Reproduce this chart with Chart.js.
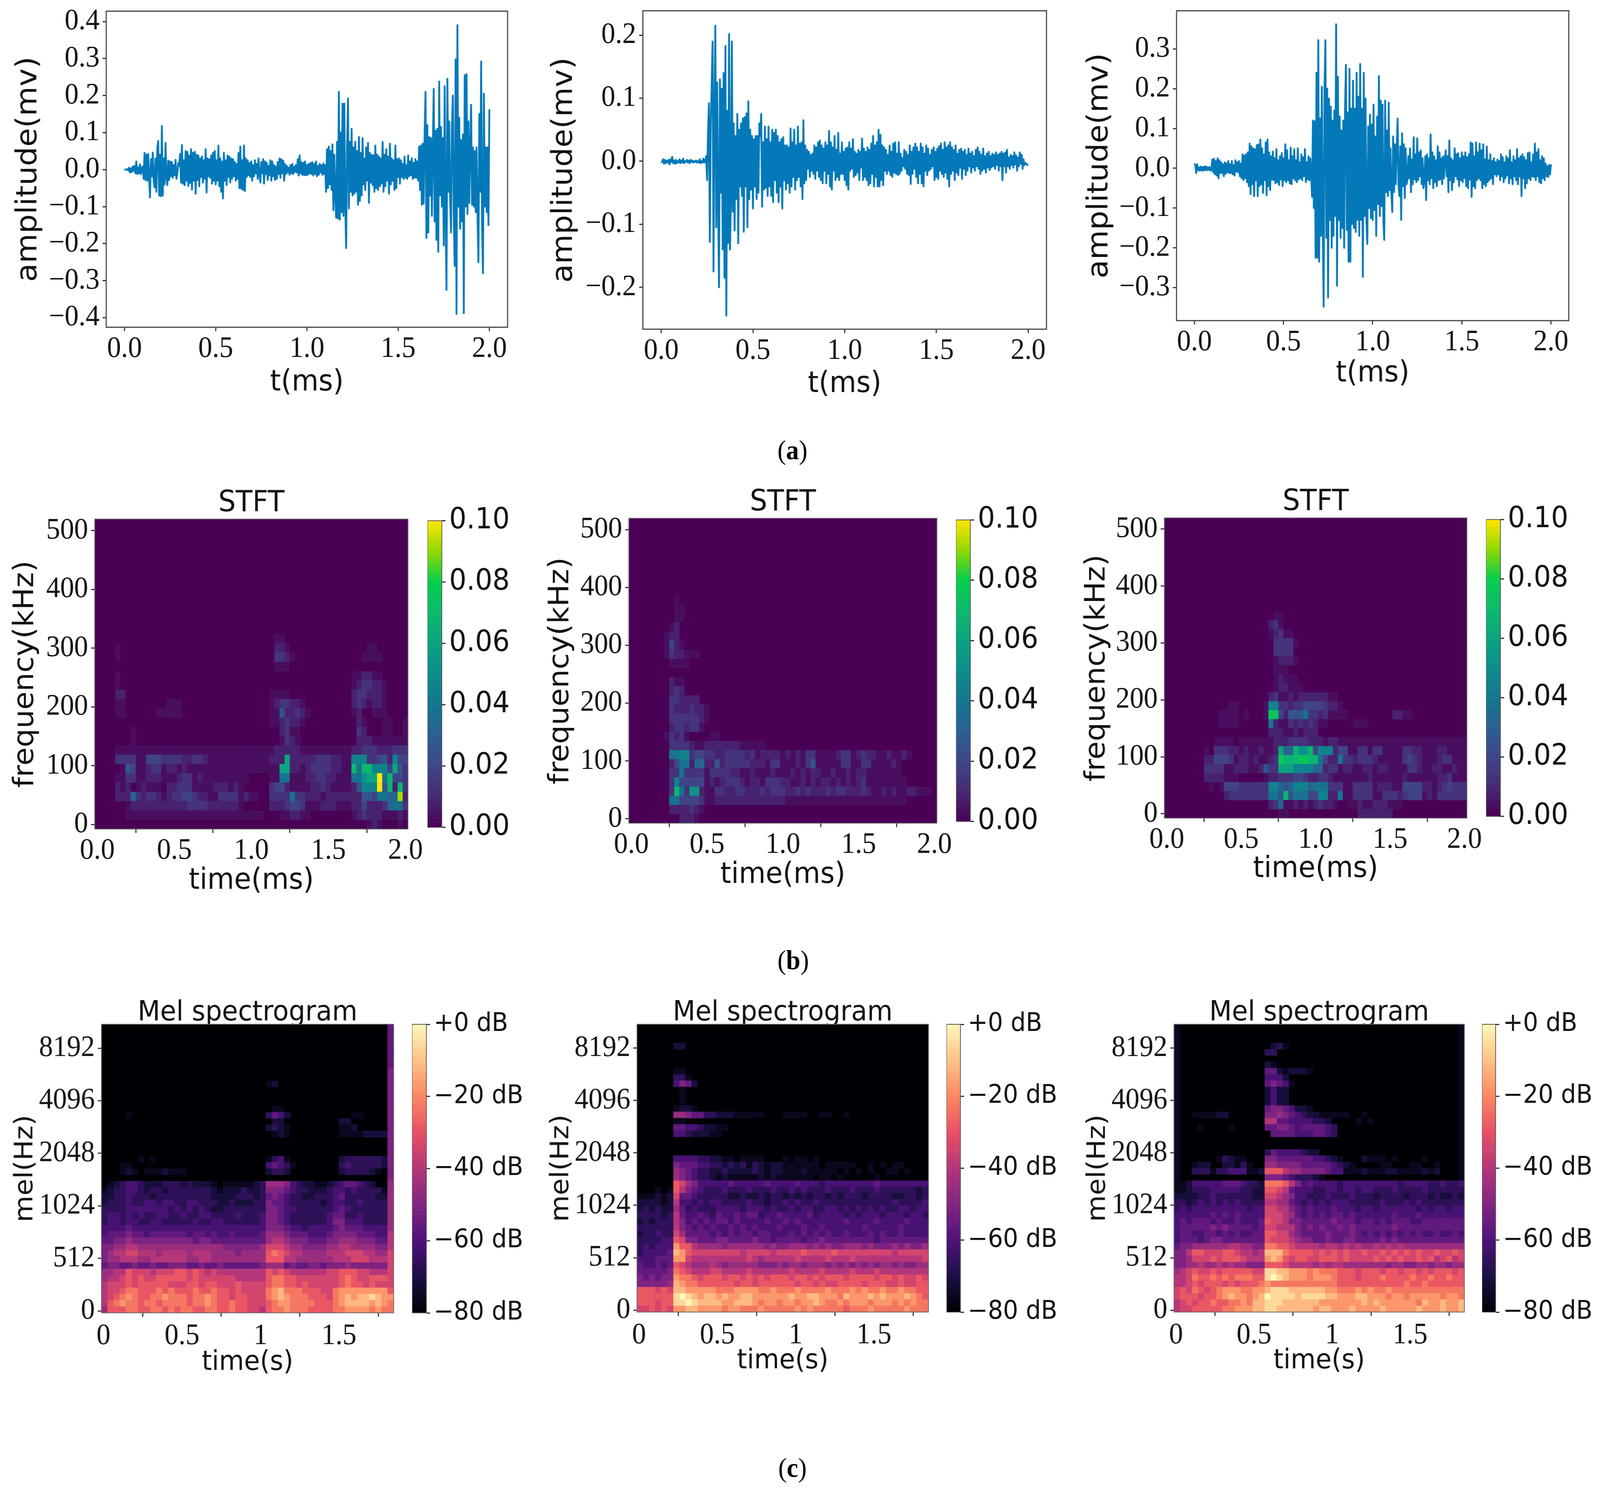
<!DOCTYPE html>
<html>
<head>
<meta charset="utf-8">
<title>Waveform, STFT and Mel spectrogram</title>
<script src="https://cdn.jsdelivr.net/npm/chart.js@4"></script>
<style>
html, body { margin: 0; background: #fff; overflow: hidden; }
#page { position: relative; width: 4353px; height: 3813px; overflow: hidden; background: #fff; transform-origin: 0 0; }
canvas { position: absolute; }
.caption { position: absolute; width: 200px; text-align: center; font: 70px "Liberation Serif", serif; color: #000; line-height: 80px; }
.caption b { font-weight: bold; }
</style>
</head>
<body>
<div id="page">
<div class="caption" style="left:2056px;top:1113px">(<b>a</b>)</div>
<div class="caption" style="left:2058px;top:2419px">(<b>b</b>)</div>
<div class="caption" style="left:2056px;top:3719px">(<b>c</b>)</div>
</div>
<script>
// amplitude, in 0.001 mV, one sample every 0.005 ms
const tStep = 0.005;

const wave1 = [
0,0,0,1,-2,5,-8,3,-6,8,-4,10,-10,22,-12,6,-10,14,-12,4,
8,-25,45,-28,40,-30,42,-22,-75,28,-18,46,-30,-48,30,-60,58,77,-70,40,
-72,118,-70,30,-40,72,-20,-42,24,-28,22,-18,20,-22,12,-15,26,-25,-10,18,
10,42,-35,66,-38,25,-42,50,-30,48,-44,38,-36,55,-54,45,-30,48,-65,40,
-28,38,-45,30,-20,35,-35,25,-25,55,-62,30,-18,28,-22,38,-38,45,-30,50,
-40,25,-30,65,-45,30,-60,22,-78,45,-30,25,-42,38,-20,35,-35,30,-25,28,
-18,20,-30,15,-25,45,-50,62,-52,25,-55,65,-58,30,-20,25,-15,18,-20,22,
-30,12,-18,25,-10,15,-25,30,-15,-35,20,-10,28,-38,22,-12,18,-28,10,-15,
25,-30,22,-18,12,-28,8,-25,20,-12,30,-22,28,-10,24,-30,15,-12,10,-8,
5,-14,12,-10,15,-12,8,-6,12,-8,28,-16,38,-10,20,-14,18,-15,22,-15,
12,-14,15,-10,18,-12,20,-16,15,-12,22,-18,10,-14,15,-8,12,-14,16,-12,
12,-60,55,-50,62,-40,50,-55,68,-110,40,-70,-130,75,-132,210,-135,100,-115,178,
-125,178,-95,-212,60,192,-105,75,-60,110,-70,60,-65,75,-60,50,-95,88,-85,45,
-70,85,-40,30,-55,60,-30,72,-90,45,-35,40,-42,38,-60,65,-50,40,-55,35,
-45,30,-38,75,-60,40,-45,55,-30,35,-65,70,-40,30,-30,25,-55,65,-50,28,
-20,30,-38,25,-20,15,-25,35,-22,12,-25,38,-18,22,-15,30,-25,18,-22,28,
-22,22,-30,62,-55,65,-95,70,-92,90,210,-185,120,-170,88,-70,85,-125,60,218,
-140,105,-190,110,-222,238,-70,115,-100,85,-205,225,-120,-325,245,-60,130,-80,-170,120,
200,-120,-260,298,-390,390,-100,140,-160,80,-140,95,-388,255,-100,258,-120,130,-90,60,
175,-95,60,-100,50,-115,60,-120,-250,150,-60,292,-150,-280,205,-100,60,-115,60,-150,163
];

const wave2 = [
-2,-1,3,-4,2,-3,1,-2,2,-5,3,-1,7,-3,1,-4,2,-3,0,-2,
3,-3,1,-2,4,-3,0,-1,2,-2,1,-3,2,-1,1,-2,0,-1,1,-2,
0,-2,3,-3,0,-2,4,-2,0,8,-30,45,92,-128,60,118,190,-175,70,215,
-105,125,-60,-200,130,-50,115,-140,140,-185,183,-245,80,-130,202,-140,-60,190,-80,60,
-110,40,-60,75,-130,50,-40,60,-55,68,-112,70,-40,76,-105,95,-60,50,-45,40,
-75,35,-40,40,-60,40,-50,60,40,75,-72,30,-45,55,-42,35,-55,55,-40,30,
-55,50,-65,45,-30,50,-50,40,-65,30,-40,35,-75,38,-30,25,-45,25,-35,22,
-50,52,-40,30,-25,50,-45,25,-30,55,-25,28,-40,30,-60,65,-35,25,-30,18,
-12,15,-25,10,-15,12,-20,25,-28,22,-15,30,-25,33,-30,25,-35,20,-15,30,
-35,25,-20,48,-40,30,-45,22,-15,40,-30,18,-25,45,-30,12,-20,30,-20,15,
-30,20,-38,22,-45,30,-15,20,-12,35,-25,15,-22,12,-18,18,-30,15,-10,36,
-30,20,-25,15,-30,22,-38,18,-35,28,-20,40,-40,25,-25,30,-40,50,-40,42,
-30,25,-38,22,-15,18,-20,10,-15,25,-22,15,-25,28,-18,30,-20,12,-22,30,
-20,12,-15,5,-8,18,-12,15,-20,10,-22,25,-36,15,-20,22,-12,28,-25,22,
-35,15,-20,28,-35,22,-40,12,-15,25,-22,20,-15,10,-12,18,-8,22,-30,15,
-25,20,-28,24,-15,28,-20,18,-25,30,-18,22,-28,25,-40,30,-20,22,-15,18,
-30,25,-18,12,-22,18,-10,20,-28,15,-12,18,-22,10,-15,20,-8,12,-18,15,
-10,8,-15,18,-8,22,-12,15,-20,10,-15,20,-12,8,-18,12,-10,15,-14,8,
-10,12,-8,10,-12,14,-6,10,-15,12,-8,15,-30,12,-8,14,-18,18,-8,6,
-12,10,-6,8,-10,14,-5,9,-15,6,-8,14,-4,10,-12,3,-6,-3,-4,-6,-5
];

const wave3 = [
12,8,-12,10,-5,2,-6,4,-5,3,-6,4,-4,5,-5,2,-4,3,-6,-4,
22,-10,24,-15,18,-18,25,-25,20,-12,15,-12,10,-20,15,-14,12,-10,18,-12,
10,-12,18,-15,8,-18,20,-8,15,-10,18,-20,12,-25,35,-30,32,-25,35,-35,
40,-45,62,-65,55,-40,50,-70,48,-30,58,-70,60,-45,72,-40,50,-62,35,-30,
65,-68,72,-45,40,-55,30,-28,42,-30,25,-38,48,-35,20,-42,30,-28,38,-45,
25,-30,60,-35,45,-30,20,-38,52,-40,30,-25,48,-30,20,-35,50,-28,15,-25,
35,-30,28,-20,48,-35,15,-28,30,-30,25,-20,-72,120,-100,118,-225,240,-225,322,
-235,125,-170,205,-130,-348,205,322,-175,200,-325,175,-130,155,-200,120,-170,145,-120,362,
-295,230,-130,130,-175,95,-150,120,-200,150,260,-155,140,-235,250,-235,150,-140,220,-150,
150,-160,240,-130,180,-170,262,-130,150,-273,240,-120,175,-130,-190,105,-100,135,-125,110,
-130,160,-105,80,-170,130,-90,232,-120,170,-95,160,-130,-180,170,-60,95,-70,165,-55,
50,-65,-110,80,-60,60,-40,55,125,-40,-70,55,-130,88,-45,60,-75,50,-40,-30,
30,-25,50,-60,22,-40,78,-28,35,-35,75,-30,40,-20,45,-40,25,-50,-30,30,
-80,35,-30,25,-40,85,-25,40,-50,30,-35,20,-45,55,-30,40,-28,25,-40,30,
-25,22,45,-20,30,-60,70,-30,25,-55,20,-35,50,-20,35,-28,38,-45,25,-30,
40,-35,30,-25,40,-45,28,-50,35,-28,65,-72,62,-45,30,-50,65,-30,40,-25,
62,-30,45,-50,60,-40,22,-45,55,-35,20,-30,35,-25,18,-40,25,-15,15,-20,
22,-15,18,-30,35,-20,28,-35,15,-25,30,-18,25,-38,45,-25,15,-40,30,-20,
20,-30,48,-40,25,-20,30,-70,35,-25,28,-50,20,-38,38,-25,40,-30,15,-20,
35,-22,62,-30,40,-20,48,-35,20,-38,30,-25,25,-30,12,-20,5,-22,8,-15,10
];

const waveTicksX = [0, 0.5, 1, 1.5, 2];
const waveLabelsX = ['0.0', '0.5', '1.0', '1.5', '2.0'];
const ampTicks1 = [-0.4, -0.3, -0.2, -0.1, 0, 0.1, 0.2, 0.3, 0.4];
const ampLabels1 = ['\u22120.4', '\u22120.3', '\u22120.2', '\u22120.1', '0.0', '0.1', '0.2', '0.3', '0.4'];
const ampTicks2 = [-0.2, -0.1, 0, 0.1, 0.2];
const ampLabels2 = ['\u22120.2', '\u22120.1', '0.0', '0.1', '0.2'];
const ampTicks3 = [-0.3, -0.2, -0.1, 0, 0.1, 0.2, 0.3];
const ampLabels3 = ['\u22120.3', '\u22120.2', '\u22120.1', '0.0', '0.1', '0.2', '0.3'];

// STFT magnitude, rows from 0 kHz upward, 61 time frames, hex level: 0 to f means 0.00 to 0.10
const stft1 = [
'0000000000 0000000000 0000000000 0000000000 0000000000 0001210001 0',
'0000001111 1111111111 1111111111 1110001122 1100000000 1232221112 1',
'0000001222 2222222233 3322222210 0000222344 3111222111 2242223677 3',
'0000222632 3321233443 2211333312 1100333373 3222122222 225547766e 2',
'0000212012 1110223331 1112221210 0000344211 1122321111 25888f5b2b 3',
'0000113311 2221112331 2111111111 0000117711 1223322111 779aaf7b44 3',
'0000015411 2331221211 1111111111 111111aa22 1233332211 b7bb8884a5 3',
'0000333311 4443333223 3211111111 1111222a22 2223332211 8883345284 4',
'0000111111 1111111111 1111111111 1111122222 1111111111 2233322233 3',
'0000000100 0000000000 0000000000 0000001321 0000000000 0222111111 1',
'0000000100 0000000000 0000000000 0000002311 0000000000 0320001100 1',
'0000000000 0000000000 0000000000 0000112322 1000000000 0210001100 1',
'0000110000 0011111000 0000000000 0000115223 2100000000 1200111000 0',
'0000110000 0000111000 0000000000 0000123322 1000000000 2321221000 0',
'0000220000 0000000000 0000000000 0000111100 0000000000 2332221000 0',
'0000100000 0000000000 0000000000 0000000000 0000000000 1233221000 0',
'0000100000 0000000000 0000000000 0000000000 0000000000 1122110000 0',
'0000000000 0000000000 0000000000 0000011100 0000000000 0000000000 0',
'0000100000 0000000000 0000000000 0000033210 0000000000 0011110000 0',
'0000100000 0000000000 0000000000 0000022100 0000000000 0001100000 0',
'0000000000 0000000000 0000000000 0000011000 0000000000 0000000000 0'
];
const stft2 = [
'0000000000 2221000000 0000000000 0000000000 0000000000 0000000000 0',
'0000000022 2232100000 0000000000 0000000000 0000000000 0000000000 0',
'0000000077 4444311222 2222222222 2111111111 1111111111 1111100000 0',
'000000003b 7399211332 2332223233 3223232223 2332223211 2121122111 0',
'0000000038 4444412123 3321221333 2211212122 1212123111 1111100000 0',
'0000000033 7333313333 2211211121 1121212211 2112122111 1111000000 0',
'0000000024 7726622523 3333222133 1112135111 1133113311 1121000000 0',
'0000000077 8834433223 3332312222 1212133111 1233123221 1211210000 0',
'0000000033 3321122222 2211111000 0000000000 0000000000 0000000000 0',
'0000000132 3100001100 0000000000 0000000000 0000000000 0000000000 0',
'0000000023 3233100000 0000000000 0000000000 0000000000 0000000000 0',
'0000000033 3333210000 0000000000 0000000000 0000000000 0000000000 0',
'0000000032 2232210000 0000000000 0000000000 0000000000 0000000000 0',
'0000000033 2222000000 0000000000 0000000000 0000000000 0000000000 0',
'0000000023 2000000000 0000000000 0000000000 0000000000 0000000000 0',
'0000000021 1000000000 0000000000 0000000000 0000000000 0000000000 0',
'0000000000 0000000000 0000000000 0000000000 0000000000 0000000000 0',
'0000000011 1100000000 0000000000 0000000000 0000000000 0000000000 0',
'0000000132 2111000000 0000000000 0000000000 0000000000 0000000000 0',
'0000000142 1000000000 0000000000 0000000000 0000000000 0000000000 0',
'0000000122 0000000000 0000000000 0000000000 0000000000 0000000000 0',
'0000000012 0000000000 0000000000 0000000000 0000000000 0000000000 0',
'0000000001 1000000000 0000000000 0000000000 0000000000 0000000000 0',
'0000000001 1000000000 0000000000 0000000000 0000000000 0000000000 0',
'0000000001 0000000000 0000000000 0000000000 0000000000 0000000000 0'
];
const stft3 = [
'0000000000 0000000000 0001100000 0000000002 2222220000 0000000000 0',
'0000000000 0000000000 0236112121 2322100112 1122211100 0000000000 0',
'0000000000 0023333333 3775b57774 4882271133 3311333234 4412133333 3',
'0000000001 0144433333 3886568886 7773331133 3312221144 4422123433 3',
'0000000022 2211100000 1223334432 2332111111 1211111121 1111122311 1',
'0000000033 3311222112 533aaa8888 6623312211 2212211113 3211221121 1',
'0000000022 4443122121 123cbbbccb b742273323 3321111134 3211123311 1',
'0000000010 3332212112 112a66b99b 4888244113 3133111133 2211122111 1',
'0000000000 1111011111 1122233332 2212211111 1111111111 1111111111 1',
'0000000000 0000000000 0222112122 2000000000 0000000000 0000000000 0',
'0000000000 0111100000 0721132323 2110000011 1000000000 0000000000 0',
'0000000000 0111101000 1cc4255573 3231111000 0000002211 0000000000 0',
'0000000000 0001100000 1883323344 4432210000 0000000000 0000000000 0',
'0000000000 0000000000 0231121222 2221100000 0000000000 0000000000 0',
'0000000000 0000000000 0012211100 0000000000 0000000000 0000000000 0',
'0000000000 0000000000 0012111000 0000000000 0000000000 0000000000 0',
'0000000000 0000000000 0011100000 0000000000 0000000000 0000000000 0',
'0000000000 0000000000 0012221000 0000000000 0000000000 0000000000 0',
'0000000000 0000000000 0033330000 0000000000 0000000000 0000000000 0',
'0000000000 0000000000 0033331000 0000000000 0000000000 0000000000 0',
'0000000000 0000000000 0123110000 0000000000 0000000000 0000000000 0',
'0000000000 0000000000 0231000000 0000000000 0000000000 0000000000 0',
'0000000000 0000000000 0011000000 0000000000 0000000000 0000000000 0'
];

// Mel power, rows from the bottom upward, 48 time frames, hex level: 0 to f means -80 dB to 0 dB
const mel1 = [
'7aaabbaabbab abbaabbaabaa 998abbcbbbaa aabbccccbcbb',
'8abcbbabbabb bbabbcbaabaa 999abccbbbba aabcddddcdcb',
'89abcbaabbcb bbabbcbaa9aa 999bcdcbbbaa a9bcdcddedcc',
'899abbaaabab aaabaabaa9a9 999bcdbbbaaa 99bcccccccca',
'8999a9aaaaa9 99aa9aa999a9 999abbaa9a99 999abaa9a99a',
'7889a9a99aaa aa9a99999988 888abbaa9999 999aba99aaa9',
'7788a9998999 aa9a98988888 888a9a988888 899aaa998889',
'566556556556 665565565555 556777565566 566676666669',
'677888778888 887788777777 777aaa887777 778889998889',
'678899888788 887888777767 777aba988777 788899988779',
'667788777777 777777776666 667999877666 677887777668',
'556676666666 666566555555 555788766655 566777666559',
'455565545555 554554544544 445777655544 456666555448',
'444454444444 444444444444 444666544344 445655544447',
'344344334433 333433443333 334665433333 346644433337',
'344343433443 343344333343 334665433333 345533433337',
'333344444443 434343223333 333665443333 334543333337',
'233343344344 334433322322 233655433333 234433433337',
'223343332333 333333222233 323565433223 334533333226',
'123344323323 333333212223 223666543322 234434333316',
'012344322233 323222101111 123777643221 123455432006',
'000000000000 000000000000 000000000000 000000000006',
'000121011121 110000000000 000233200000 000233332106',
'000110000000 000000000000 000454310000 000343333326',
'000000101000 000000000000 000134100000 000233333326',
'', '', '',
'000000000000 000000000000 000012100000 000111122226',
'000000000000 000000000000 000232100000 000112000006',
'000000000000 000000000000 000022000000 000220000006',
'000010000000 000000000000 000354200000 000001100006',
'000000000000 000000000000 000011000000 000000000000',
'', '', '',
'000000000000 000000000000 000120000000 000000000000'
];
const mel1LastCol = 'bbca999999888777777776666666666666666665555555 5';
const mel2 = [
'99a9a9ccddcc ccbccbbbcbbb bbcbcbbbbbab bbcbbbbbcbbb',
'aaa9aaeefedd ddccdddcbccb ccbccdcbbcbc ccbcccbcbcbb',
'aaaaaaefedcd dcdccddccccc cdccddcccbdc ccdcdcccdcba',
'aaa9a9ddcccc cbbbccccbbcb bbcbbbbcbbbc bcbbcbbcbbaa',
'666667dcbbaa aaaa9aa9aaaa aa9aa9a99aaa a9aaa99a99aa',
'656566cbba9a aa9aa9a9a9aa a9aa9a9aaa9a aaa9aa9a99a9',
'555556ba9888 998888988888 898888988889 888988888888',
'544545a98777 876777776667 677677767676 767677676677',
'444555cc9888 888888987888 889888898889 888888888889',
'344445dca999 999998999989 999a9999a999 999999899999',
'343444caa877 776777777676 677767676677 767666767667',
'333344a96655 566555565545 555455655555 555455555555',
'233433975555 454545545544 454545454454 445454454444',
'333333865454 544545454445 444544544444 454444454444',
'232333864545 455454444544 545444444454 444544445444',
'333323854454 354454553445 444453444434 344434443443',
'232322753433 344443444343 343443344343 434343344344',
'222212844343 443333433233 434334333333 333333433334',
'111212955433 333223223233 232323323233 323333223323',
'000101a86543 334333433343 343433343334 333433333323',
'000000a97644 444544444544 445444344444 444544444444',
'000000765433 212111112121 111110110100 000100000000',
'000000765433 223222232122 111211111010 101001101000',
'000000655544 332323132122 111111011111 001010110000',
'000000444433 221101111000 101101000000',
'', '', '',
'000000443222 110000000000',
'000000554432 211000000000',
'000000110000',
'000000776553 322211111000 111100110010',
'000000122100',
'000000010000', '000000010000', '000000010000',
'000000465200',
'000000331000',
'000000110000',
'', '', '',
'000000220000'
];
const mel3 = [
'899aaaaabbcc cddeedddd ddcddcccdccc cdcccccdcccd ccd',
'89a9aabaabbc bddeeeddd dddcccccccdc dccccccbdccd ccd',
'9aaa9aabcdcc bcdfeeeed eeeeddcccddc ccbccbcccccb ccb',
'9a9ba9abcccb bccdeeedd ddddccbbbcbc bbcbbbbbbbbb bbb',
'889a9aaa9a9a aabcbbbbb bbbbbbaaaaaa aaaaabaabaaa aaa',
'889baabababb baaefedcc cbcccbaaa9aa abaaaabaabaa baa',
'789a99a9aaaa a99eeddcc cbcbbbaaa9aa a9aa9aa9a9aa a9a',
'667787787877 666aaa988 887878877777 776776677677 677',
'667999a9aaa9 888cdca9a a99aaa9a9999 a9a9a99a9a89 a89',
'668aa999aa98 878dddbaa aa9a9a9a99a9 9a9a9a9a99a9 9a9',
'566777777887 766bbaa98 888788787877 878787777777 777',
'455545665555 555a99987 665565566555 565655555555 555',
'455445545454 455aa9976 555565556545 454545454454 454',
'455555656555 545998886 565655656555 555655555555 555',
'454555454454 445a99866 555556555455 454555445555 555',
'444444545454 444999875 454545545444 444544454444 444',
'343444444444 344998865 454445444344 344444434344 344',
'332343434343 333887754 343434443333 343334343333 333',
'222233433333 322998764 433343334333 233332333232 232',
'112333444443 322aa9854 443344344344 333433334333 333',
'112444445554 332bbba86 454444344444 444434444334 334',
'000000000000 000666543 332100000000 000000000000',
'000333133444 112aaa877 666654411121 112211112120',
'000122002213 100776666 555554321000 011000110010',
'000000013211 000665555 554432100021 110100001000',
'000000000000 000354444 322000000000',
'', '',
'000000000000 000055554 445543000000',
'000010000100 000556654 555543000000',
'000000000000 000885544 443320000101',
'000111122000 000667654 322111110010',
'000000000000 000566542 210000000000',
'000000000000 000242200', '000000000000 000242200', '000000000000 000242200',
'000000000000 000565410',
'000000000000 000444200',
'000000000000 000552122 210000000000',
'000000000000 000210000',
'',
'000000000000 000330000',
'000000000000 000023100'
];
// dim first and last frames of the third Mel panel, a dot keeps the level of the row
const mel3EdgeCol = '..................... 1111111111111111111111111';

const stftTicksX = [0, 0.5, 1, 1.5, 2];
const stftLabelsX = ['0.0', '0.5', '1.0', '1.5', '2.0'];
const stftTicksY = [0, 100, 200, 300, 400, 500];
const stftLabelsY = ['0', '100', '200', '300', '400', '500'];
const melTicksX = [0, 0.5, 1, 1.5];
const melLabelsX = ['0', '0.5', '1', '1.5'];
const melTicksY = [0, 1, 2, 3, 4, 5];
const melLabelsY = ['0', '512', '1024', '2048', '4096', '8192'];
const stftBarTicks = [0, 0.02, 0.04, 0.06, 0.08, 0.1];
const stftBarLabels = ['0.00', '0.02', '0.04', '0.06', '0.08', '0.10'];
const melBarTicks = [-80, -60, -40, -20, 0];
const melBarLabels = ['\u221280 dB', '\u221260 dB', '\u221240 dB', '\u221220 dB', '+0 dB'];

const viridis = ['#4a0055', '#482a74', '#3f4689', '#2a6092', '#14768f', '#0c8d8b', '#0aa381', '#0dba6c', '#05cf4d', '#92d800', '#ffe600'];
const magma = ['#000004', '#1c1044', '#4f127b', '#812581', '#b5367a', '#e85064', '#fb8861', '#fec287', '#fcf8b8'];

const SERIF = '"Liberation Serif", serif';
const SANS = '"DejaVu Sans", sans-serif';
const INK = '#111';
const page = document.getElementById('page');

// the window can be narrower than the figure, squeeze the whole figure in so nothing is cut
page.style.transform = 'scaleX(' + Math.min(1, window.innerWidth / 4353) + ')';

function color_at(stops, t) {
    t = Math.min(1, Math.max(0, t));
    const p = t * (stops.length - 1);
    const i = Math.min(stops.length - 2, Math.floor(p));
    const f = p - i;
    const a = stops[i], b = stops[i + 1];
    const out = [1, 3, 5].map(k => {
        const u = parseInt(a.substr(k, 2), 16), v = parseInt(b.substr(k, 2), 16);
        return Math.round(u + (v - u) * f);
    });
    return 'rgb(' + out.join(',') + ')';
}

function add_canvas(left, top, width, height) {
    const c = document.createElement('canvas');
    c.width = width;
    c.height = height;
    c.style.left = left + 'px';
    c.style.top = top + 'px';
    c.style.width = width + 'px';
    c.style.height = height + 'px';
    page.appendChild(c);
    return c.getContext('2d');
}

const framePlugin = {
    id: 'frameBox',
    beforeDatasetsDraw(chart, args, opts) {
        if (!opts.fill) return;
        const a = chart.chartArea;
        chart.ctx.fillStyle = opts.fill;
        chart.ctx.fillRect(a.left, a.top, a.width, a.height);
    },
    afterDraw(chart, args, opts) {
        const a = chart.chartArea;
        const ctx = chart.ctx;
        ctx.save();
        ctx.strokeStyle = opts.color || '#444';
        ctx.lineWidth = opts.width || 3;
        ctx.strokeRect(a.left, a.top, a.width, a.height);
        ctx.restore();
    }
};

function axis(opts) {
    const out = {
        type: 'linear',
        min: opts.min,
        max: opts.max,
        offset: false,
        position: opts.position,
        grid: { drawOnChartArea: false, drawTicks: true, tickLength: 10, tickWidth: 3, tickColor: '#333' },
        border: { display: false },
        afterBuildTicks(scale) { scale.ticks = opts.ticks.map(value => ({ value })); },
        afterFit(scale) {
            if (opts.fitWidth !== undefined) scale.width = opts.fitWidth;
            if (opts.fitHeight !== undefined) scale.height = opts.fitHeight;
        },
        ticks: {
            autoSkip: false,
            maxRotation: 0,
            minRotation: 0,
            padding: opts.padding,
            color: INK,
            font: { family: opts.family || SERIF, size: opts.size || 76 },
            callback: (v, i) => opts.labels[i]
        },
        title: { display: false }
    };
    if (opts.title) {
        out.title = {
            display: true,
            text: opts.title,
            color: INK,
            padding: 0,
            font: { family: SANS, size: opts.titleSize }
        };
    }
    return out;
}

// canvas box comes from plot rectangle and axis label centres, the fitted axis sizes pin the plot area
function build_chart(p, type, datasets, titleText, titleSize, frame) {
    const xLine = p.xSize * 0.6;
    const yLine = p.ySize * 0.6;
    const padRight = 60;
    const left = p.yLabelX - yLine;
    const bottom = p.xLabelY + xLine;
    const padTop = titleText ? 30 : 50;
    const titleBox = titleText ? titleSize * p.titleLine : 0;
    const top = p.top - padTop - titleBox;
    const ctx = add_canvas(left, top, p.right + padRight - left, bottom - top);
    return new Chart(ctx, {
        type,
        data: { datasets },
        options: {
            responsive: false,
            animation: false,
            events: [],
            layout: { padding: { left: 0, right: padRight, top: padTop, bottom: 0 } },
            plugins: {
                legend: { display: false },
                tooltip: { enabled: false },
                frameBox: frame,
                title: titleText ? {
                    display: true,
                    text: titleText,
                    fullSize: false,
                    color: INK,
                    padding: 0,
                    font: { family: SANS, size: titleSize, weight: 'normal', lineHeight: p.titleLine }
                } : { display: false }
            },
            scales: {
                x: axis({ min: p.xMin, max: p.xMax, ticks: p.xTicks, labels: p.xLabels, padding: p.xPad,
                    position: 'bottom', fitHeight: bottom - p.bottom, title: p.xTitle, titleSize: p.xSize }),
                y: axis({ min: p.yMin, max: p.yMax, ticks: p.yTicks, labels: p.yLabels, padding: 8,
                    position: 'left', fitWidth: p.left - left, title: p.yTitle, titleSize: p.ySize })
            }
        },
        plugins: [framePlugin]
    });
}

function draw_wave(p, values) {
    const points = values.map((v, i) => ({ x: i * tStep, y: v / 1000 }));
    build_chart(p, 'line', [{
        data: points,
        borderColor: '#0479b9',
        borderWidth: 5,
        pointRadius: 0,
        tension: 0,
        borderJoinStyle: 'round'
    }], null, 0, { color: '#444', width: 3 });
}

function decode(row) {
    return row.replace(/ /g, '').split('').map(ch => parseInt(ch, 16));
}

function cell_datasets(p, rows, nCols, nRows, stops, gamma, edges) {
    const colW = (p.xMax - p.xMin) / nCols;
    const rowH = (p.yMax - p.yMin) / nRows;
    const first = edges.first ? decode(edges.first) : [];
    const last = edges.last ? decode(edges.last) : [];
    const sets = [];
    for (let r = 0; r < Math.max(rows.length, first.length, last.length); r++) {
        const levels = decode(rows[r] || '');
        const data = [], colors = [];
        for (let c = 0; c < nCols; c++) {
            let lv = levels[c] || 0;
            if (c === 0 && first[r] >= 0) lv = first[r];
            if (c === nCols - 1 && last[r] >= 0) lv = last[r];
            if (lv === 0) continue;
            data.push({ x: p.xMin + (c + 0.5) * colW, y: [p.yMin + r * rowH, p.yMin + (r + 1) * rowH] });
            colors.push(color_at(stops, Math.pow(lv / 15, gamma)));
        }
        if (data.length) sets.push({ data, backgroundColor: colors, grouped: false, barPercentage: 1, categoryPercentage: 1, borderWidth: 0 });
    }
    return sets;
}

function draw_heat(p, rows, nCols, nRows, stops, gamma, titleText, titleSize, edges) {
    const sets = cell_datasets(p, rows, nCols, nRows, stops, gamma, edges || {});
    // transparent pair of neighbouring cells, it fixes the bar width to one frame in every dataset
    const colW = (p.xMax - p.xMin) / nCols;
    sets.push({ data: [{ x: p.xMin + colW / 2, y: [p.yMin, p.yMin] }, { x: p.xMin + colW * 1.5, y: [p.yMin, p.yMin] }],
        backgroundColor: 'rgba(0,0,0,0)', grouped: false, barPercentage: 1, categoryPercentage: 1 });
    build_chart(p, 'bar', sets, titleText, titleSize, { fill: color_at(stops, 0), color: '#666', width: 2 });
}

function draw_colorbar(b, stops, ticks, labels, labelSize, axisW) {
    const steps = 120;
    const pad = 50;
    const sets = [];
    for (let i = 0; i < steps; i++) {
        const lo = b.min + (b.max - b.min) * i / steps;
        const hi = b.min + (b.max - b.min) * (i + 1) / steps;
        sets.push({ data: [[lo, hi]], backgroundColor: color_at(stops, (i + 0.5) / steps), grouped: false, barPercentage: 1, categoryPercentage: 1 });
    }
    const w = b.right - b.left;
    const ctx = add_canvas(b.left, b.top - pad, w + axisW, b.bottom - b.top + pad * 2);
    new Chart(ctx, {
        type: 'bar',
        data: { labels: [''], datasets: sets },
        options: {
            responsive: false,
            animation: false,
            events: [],
            layout: { padding: { top: pad, bottom: pad } },
            plugins: { legend: { display: false }, tooltip: { enabled: false }, frameBox: { color: '#555', width: 2 } },
            scales: {
                x: { display: false },
                y: axis({ min: b.min, max: b.max, ticks, labels, padding: 10, position: 'right',
                    fitWidth: axisW, family: SANS, size: labelSize })
            }
        },
        plugins: [framePlugin]
    });
}

const waveBase = { xMin: -0.1, xMax: 2.1, xTicks: waveTicksX, xLabels: waveLabelsX, xTitle: 't(ms)', xSize: 75, xPad: 0, yTitle: 'amplitude(mv)', ySize: 78 };
draw_wave({ ...waveBase, left: 289, right: 1381, top: 25, bottom: 838, yMin: -0.426, yMax: 0.428, yTicks: ampTicks1, yLabels: ampLabels1, yLabelX: 79, xLabelY: 981 }, wave1);
draw_wave({ ...waveBase, left: 1749, right: 2847, top: 24, bottom: 843, yMin: -0.2666, yMax: 0.2388, yTicks: ampTicks2, yLabels: ampLabels2, yLabelX: 1536, xLabelY: 985 }, wave2);
draw_wave({ ...waveBase, left: 3201, right: 4268, top: 24, bottom: 821, yMin: -0.383, yMax: 0.396, yTicks: ampTicks3, yLabels: ampLabels3, yLabelX: 2993, xLabelY: 958 }, wave3);

const stftBase = { xMin: -0.0165, xMax: 2.0165, xTicks: stftTicksX, xLabels: stftLabelsX, xPad: 0, yTicks: stftTicksY, yLabels: stftLabelsY, xTitle: 'time(ms)', xSize: 75, yTitle: 'frequency(kHz)', ySize: 76, titleLine: 1.05, yMin: -7.7, yMax: 519.7 };
draw_heat({ ...stftBase, left: 258, right: 1110, top: 1329, bottom: 2123, yLabelX: 71, xLabelY: 2257 }, stft1, 61, 33.4, viridis, 1.25, 'STFT', 74.5);
draw_heat({ ...stftBase, left: 1711, right: 2549, top: 1327, bottom: 2108, yLabelX: 1527, xLabelY: 2242 }, stft2, 61, 33.4, viridis, 1.25, 'STFT', 74.5);
draw_heat({ ...stftBase, left: 3168, right: 3991, top: 1326, bottom: 2095, yLabelX: 2986, xLabelY: 2227 }, stft3, 61, 33.4, viridis, 1.25, 'STFT', 74.5);
draw_colorbar({ left: 1163, right: 1202, top: 1329, bottom: 2123, min: 0, max: 0.1 }, viridis, stftBarTicks, stftBarLabels, 74, 220);
draw_colorbar({ left: 2601, right: 2640, top: 1327, bottom: 2108, min: 0, max: 0.1 }, viridis, stftBarTicks, stftBarLabels, 74, 220);
draw_colorbar({ left: 4043, right: 4082, top: 1326, bottom: 2095, min: 0, max: 0.1 }, viridis, stftBarTicks, stftBarLabels, 74, 220);

const melBase = { xMin: -0.013, xMax: 1.848, xTicks: melTicksX, xLabels: melLabelsX, xPad: 4, yTicks: melTicksY, yLabels: melLabelsY, xTitle: 'time(s)', xSize: 70, yTitle: 'mel(Hz)', ySize: 70, titleLine: 0.8, yMin: -0.037, yMax: 5.456 };
draw_heat({ ...melBase, left: 276, right: 1071, top: 2623, bottom: 3362, yLabelX: 70, xLabelY: 3490 }, mel1, 48, 46, magma, 1.1, 'Mel spectrogram', 71, { last: mel1LastCol });
draw_heat({ ...melBase, left: 1733, right: 2526, top: 2623, bottom: 3360, yLabelX: 1528, xLabelY: 3486 }, mel2, 48, 46, magma, 1.1, 'Mel spectrogram', 71);
draw_heat({ ...melBase, left: 3194, right: 3984, top: 2623, bottom: 3360, yLabelX: 2988, xLabelY: 3486 }, mel3, 48, 46, magma, 1.1, 'Mel spectrogram', 71, { first: mel3EdgeCol, last: mel3EdgeCol });
draw_colorbar({ left: 1121, right: 1160, top: 2623, bottom: 3362, min: -80, max: 0 }, magma, melBarTicks, melBarLabels, 65, 270);
draw_colorbar({ left: 2575, right: 2613, top: 2623, bottom: 3360, min: -80, max: 0 }, magma, melBarTicks, melBarLabels, 65, 270);
draw_colorbar({ left: 4032, right: 4069, top: 2623, bottom: 3360, min: -80, max: 0 }, magma, melBarTicks, melBarLabels, 65, 270);
</script>
</body>
</html>
